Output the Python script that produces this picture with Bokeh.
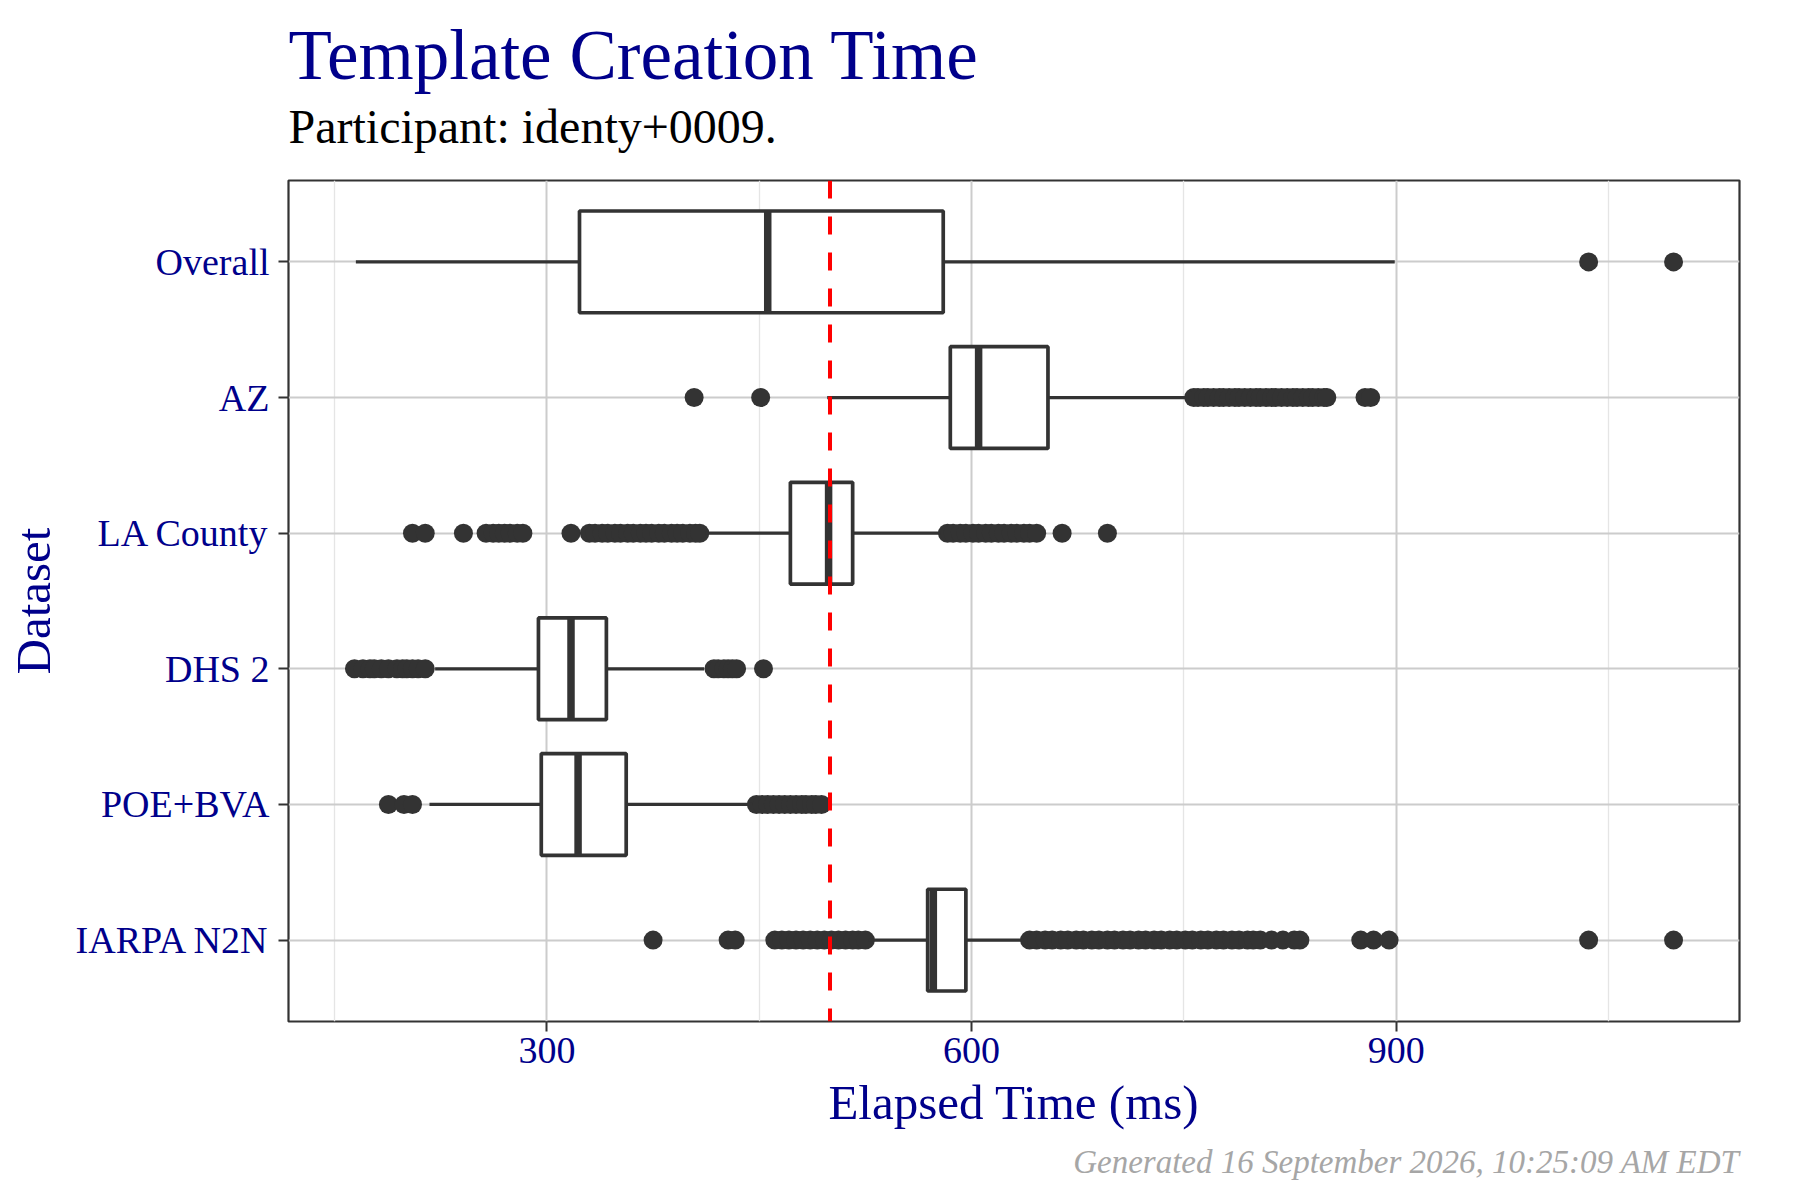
from bokeh.plotting import figure
from bokeh.models import FactorRange, Range1d, FixedTicker, Span, Title, ColumnDataSource
from bokeh.embed import file_html
from bokeh.resources import INLINE

# ---------------- data (ms) ----------------
categories = ["Overall", "AZ", "LA County", "DHS 2", "POE+BVA", "IARPA N2N"]
whisker_low = [165, 498, 412, 221, 217, 527]
q1 = [323, 585, 472, 294, 296, 569]
median = [456, 605, 499, 317, 322, 573]
q3 = [580, 654, 516, 342, 356, 596]
whisker_high = [899, 752, 578, 411, 445, 637]

outliers_overall = [1036, 1096]
outliers_az = [404, 451, 757, 760, 764, 767, 771, 775, 778, 782, 786, 789, 793, 797,
               801, 804, 808, 812, 815, 819, 823, 827, 830, 834, 838, 841, 845, 849,
               851, 878, 882]
outliers_la = [205, 214, 241, 257, 262, 266, 270, 274, 279, 283, 317, 330, 334, 339,
               343, 348, 352, 357, 361, 366, 370, 374, 379, 383, 388, 392, 396, 401,
               405, 408, 583, 587, 592, 596, 601, 605, 610, 614, 619, 623, 628, 632,
               637, 641, 646, 664, 696]
outliers_dhs = [164, 170, 175, 178, 183, 188, 194, 198, 201, 205, 209, 214,
                418, 421, 425, 428, 431, 434, 453]
outliers_poe = [188, 199, 205, 448, 452, 456, 460, 464, 468, 472, 476, 480, 483,
                487, 490, 494]
outliers_iarpa = [375, 428, 433, 461, 466, 471, 476, 481, 486, 491, 496, 501, 506,
                  511, 516, 520, 525, 641, 646, 652, 657, 663, 668, 674, 679, 685,
                  690, 696, 701, 707, 712, 718, 723, 729, 734, 740, 745, 751, 756,
                  762, 767, 773, 778, 784, 789, 795, 799, 804, 812, 820, 828, 832,
                  875, 884, 895, 1036, 1096]
outliers = [outliers_overall, outliers_az, outliers_la, outliers_dhs, outliers_poe,
            outliers_iarpa]

threshold = 500
x_ticks = [300, 600, 900]
x_minor = [150, 450, 750, 1050]

title_text = "Template Creation Time"
subtitle_text = "Participant: identy+0009."
caption_text = "Generated 16 September 2026, 10:25:09 AM EDT"
x_label = "Elapsed Time (ms)"
y_label = "Dataset"

# ---------------- styling ----------------
FONT = "Liberation Serif"
BLUE = "#00008B"
DARK = "#333333"

all_vals = whisker_low + whisker_high + [v for lst in outliers for v in lst]
lo, hi = min(all_vals), max(all_vals)
pad = 0.05 * (hi - lo)

p = figure(
    width=1784, height=1192,
    y_range=FactorRange(factors=categories[::-1], range_padding=0.1,
                        range_padding_units="absolute"),
    x_range=Range1d(lo - pad, hi + pad),
    output_backend="svg", toolbar_location=None,
    title=title_text,
    min_border_left=288, min_border_right=45,
    min_border_top=180, min_border_bottom=171,
)
p.background_fill_color = "white"
p.border_fill_color = "white"
p.outline_line_color = DARK
p.outline_line_width = 2.2

# titles
p.title.text_font = FONT
p.title.text_font_size = "71px"
p.title.text_font_style = "normal"
p.title.text_color = BLUE
p.title.align = "left"
p.title.standoff = -46
p.add_layout(Title(text=subtitle_text, text_font=FONT, text_font_size="48px",
                   text_font_style="normal", text_color="black", align="left",
                   standoff=55), "above")
p.add_layout(Title(text=caption_text, text_font=FONT, text_font_size="33px",
                   text_font_style="italic", text_color="#a6a6a6", align="right",
                   standoff=18), "below")

# axes
for ax in (p.xaxis, p.yaxis):
    ax.axis_label_text_font = FONT
    ax.axis_label_text_font_size = "49px"
    ax.axis_label_text_font_style = "normal"
    ax.axis_label_text_color = BLUE
    ax.major_label_text_font = FONT
    ax.major_label_text_font_size = "38px"
    ax.major_label_text_color = BLUE
    ax.major_tick_line_color = DARK
    ax.major_tick_line_width = 2
    ax.major_tick_out = 10
    ax.major_tick_in = 0
    ax.minor_tick_line_color = None
    ax.axis_line_color = None

p.xaxis.axis_label = x_label
p.yaxis.axis_label = y_label
p.xaxis.ticker = FixedTicker(ticks=x_ticks, minor_ticks=x_minor)
p.xaxis.major_label_standoff = 6
p.xaxis.axis_label_standoff = 9
p.yaxis.major_label_standoff = 9
p.yaxis.axis_label_standoff = 12

p.xgrid.grid_line_color = "#cccccc"
p.xgrid.grid_line_width = 2
p.xgrid.minor_grid_line_color = "#e5e5e5"
p.xgrid.minor_grid_line_width = 1.3
p.ygrid.grid_line_color = "#cccccc"
p.ygrid.grid_line_width = 2

# boxes
src = ColumnDataSource(dict(cat=categories, wlo=whisker_low, q1=q1, med=median,
                            q3=q3, whi=whisker_high))
out_x, out_y = [], []
for c, lst in zip(categories, outliers):
    out_x.extend(lst)
    out_y.extend([c] * len(lst))
p.scatter(x=out_x, y=out_y, size=19, fill_color=DARK, line_color=None)
p.segment(x0="wlo", y0="cat", x1="q1", y1="cat", source=src,
          line_color=DARK, line_width=3.3)
p.segment(x0="q3", y0="cat", x1="whi", y1="cat", source=src,
          line_color=DARK, line_width=3.3)
p.hbar(y="cat", left="q1", right="q3", height=0.75, source=src,
       fill_color="white", line_color=DARK, line_width=3.7)
p.rect(x="med", y="cat", width=7.5, width_units="screen", height=0.75, source=src,
       fill_color=DARK, line_color=None)

p.add_layout(Span(location=threshold, dimension="height", line_color="red",
                  line_width=4, line_dash="18 18"))

open("out.html", "w").write(file_html(p, INLINE))
